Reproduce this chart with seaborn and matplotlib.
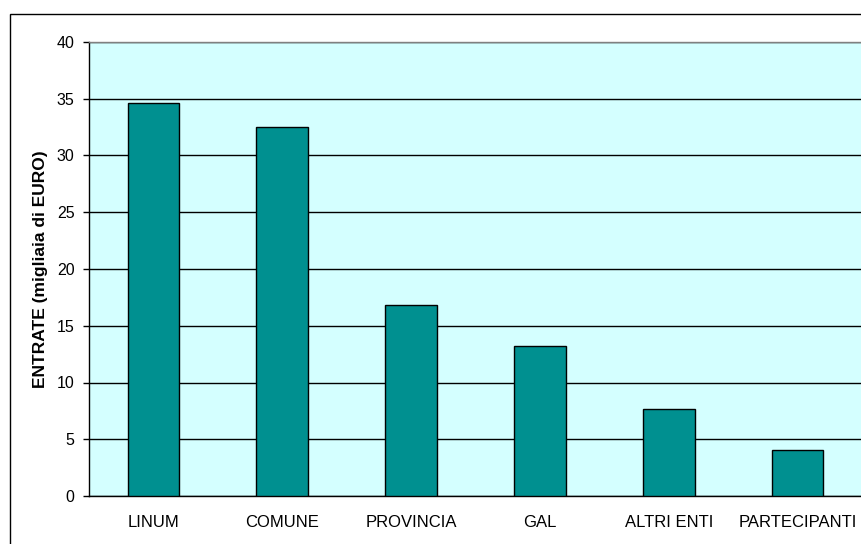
import matplotlib
matplotlib.use("Agg")
import matplotlib.pyplot as plt
from matplotlib.patches import Rectangle
import seaborn as sns
import pandas as pd

# Funding sources and amounts (thousands of euro)
categories = ["LINUM", "COMUNE", "PROVINCIA", "GAL", "ALTRI ENTI", "PARTECIPANTI"]
values = [34.65, 32.55, 16.85, 13.2, 7.65, 4.05]
y_ticks = [0, 5, 10, 15, 20, 25, 30, 35, 40]

df = pd.DataFrame({"fonte": categories, "entrate": values})

sns.set_style("white")
plt.rcParams["font.family"] = ["Liberation Sans", "DejaVu Sans"]
plt.rcParams["text.color"] = "black"
plt.rcParams["axes.labelcolor"] = "black"
plt.rcParams["xtick.color"] = "black"
plt.rcParams["ytick.color"] = "black"

W, H = 861, 544
fig = plt.figure(figsize=(W / 100, H / 100), dpi=100)
fig.patch.set_facecolor("white")
ax = fig.add_axes([89 / W, 1 - 496 / H, (862 - 89) / W, (496 - 42) / H])
ax.set_facecolor("#D4FFFF")

sns.barplot(data=df, x="fonte", y="entrate", color="#009090", width=0.4,
            edgecolor="black", linewidth=1.0, saturation=1, ax=ax, zorder=3)

ax.set_xlim(-0.5, len(categories) - 0.5)
ax.set_ylim(0, 40)
ax.set_yticks(y_ticks)
ax.set_yticklabels([str(t) for t in y_ticks], fontsize=11.5)
ax.yaxis.grid(True, color="black", linewidth=1.0, zorder=1)
ax.xaxis.grid(False)
ax.set_axisbelow(True)

# category labels centred, tick marks between categories
ax.set_xticks(range(len(categories)))
ax.set_xticklabels(categories, fontsize=12)
ax.tick_params(axis="x", which="major", length=0, pad=14)
ax.set_xticks([i - 0.5 for i in range(len(categories) + 1)], minor=True)
ax.tick_params(axis="x", which="minor", length=4.5, width=1, direction="out", color="black")
ax.tick_params(axis="y", which="major", length=4.5, width=1, direction="out", color="black", pad=6, left=True)

ax.set_xlabel("")
ax.set_ylabel("ENTRATE (migliaia di EURO)", fontsize=12.5, fontweight="bold")
ax.yaxis.set_label_coords(-0.053, 0.5)

for side in ("left", "bottom"):
    ax.spines[side].set_color("black")
    ax.spines[side].set_linewidth(1.0)
for side in ("top", "right"):
    ax.spines[side].set_color("#808080")
    ax.spines[side].set_linewidth(1.0)

# chart frame
fig.add_artist(Rectangle((9.5 / W, -0.1), 1.2, 1.1 - 13.5 / H, transform=fig.transFigure,
                         fill=False, edgecolor="black", linewidth=1.0))

fig.savefig("out.png", dpi=100)
